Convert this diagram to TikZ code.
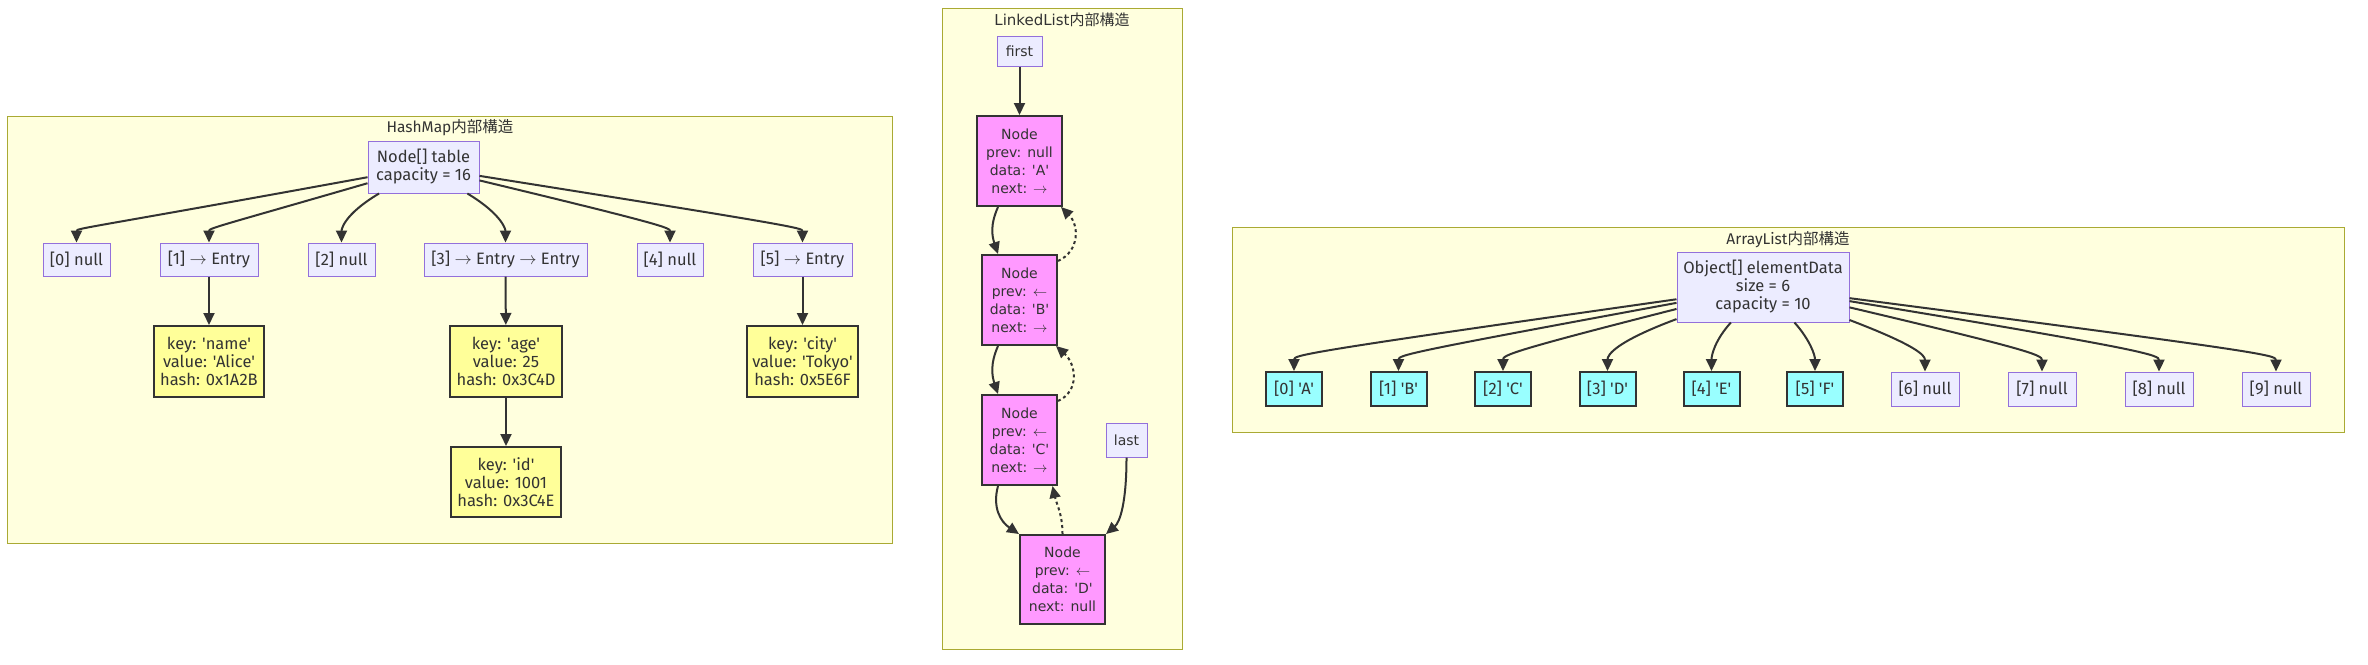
\documentclass[tikz,border=0pt]{standalone}
\usepackage{fontspec}
\setmainfont{Fira Sans}[Ligatures=TeXOff]
\newfontfamily\dvs{DejaVu Sans}[Ligatures=TeXOff]
\newfontfamily\cjk{Noto Sans CJK JP}
\usetikzlibrary{arrows.meta}

\definecolor{grpfill}{HTML}{FFFFDE}
\definecolor{grpline}{HTML}{AAAA33}
\definecolor{slotfill}{HTML}{ECECFF}
\definecolor{slotline}{HTML}{9370DB}
\definecolor{ink}{HTML}{333333}
\definecolor{entryfill}{HTML}{FFFF99}
\definecolor{cellfill}{HTML}{FF99FF}
\definecolor{elemfill}{HTML}{99FFFF}

\begin{document}
\begin{tikzpicture}[x=1pt, y=-1pt]
		\tikzstyle{grp}=[draw=grpline, fill=grpfill, line width=1pt]
		\tikzstyle{title}=[text=ink, inner sep=0pt, font=\fontsize{15.5}{18}\selectfont]
		\tikzstyle{slot}=[draw=slotline, fill=slotfill, line width=1pt, text=ink, align=center, inner sep=0pt, minimum height=33pt, font=\fontsize{16.5}{18}\selectfont]
		\tikzstyle{entry}=[slot, draw=ink, fill=entryfill, line width=2pt, minimum height=71pt]
		\tikzstyle{cell}=[entry, fill=cellfill, minimum height=90pt, font=\dvs\fontsize{14}{18}\selectfont]
		\tikzstyle{elem}=[entry, fill=elemfill, minimum width=56pt, minimum height=34pt]
		\tikzstyle{edge}=[draw=ink, line width=2pt, -{Triangle[length=12pt,width=11pt]}]
		\tikzstyle{back}=[edge, dash pattern=on 3pt off 3pt]

		\useasboundingbox (0,0) rectangle (2368,664);

    % Clusters
		\draw[grp] (7,116) rectangle (892,543);
		\draw[grp] (942,8) rectangle (1182,649);
		\draw[grp] (1232,227) rectangle (2344,432);

		\node[title](hmtitle) at (450,128){HashMap{\cjk 内部構造}};
		\node[title, font=\dvs\fontsize{15}{18}\selectfont](lltitle) at (1062,20){LinkedList{\cjk 内部構造}};
		\node[title](altitle) at (1788,240){ArrayList{\cjk 内部構造}};

    % HashMap
		\node[slot, minimum width=111pt, minimum height=52pt](tbl) at (423.5,167){Node[] table\\capacity = 16};
		\node[slot, minimum width=67pt](h0) at (76.5,259.5){[0] null};
		\node[slot, minimum width=98pt](h1) at (209,259.5){[1] $\rightarrow$ Entry};
		\node[slot, minimum width=67pt](h2) at (341.5,259.5){[2] null};
		\node[slot, minimum width=163pt](h3) at (505.5,259.5){[3] $\rightarrow$ Entry $\rightarrow$ Entry};
		\node[slot, minimum width=66pt](h4) at (670,259.5){[4] null};
		\node[slot, minimum width=99pt](h5) at (802.5,259.5){[5] $\rightarrow$ Entry};

		\node[entry, minimum width=110pt](e1) at (209,361.5){key: 'name'\\value: 'Alice'\\hash: 0x1A2B};
		\node[entry, minimum width=112pt](e3) at (506,361.5){key: 'age'\\value: 25\\hash: 0x3C4D};
		\node[entry, minimum width=111pt](e5) at (802.5,361.5){key: 'city'\\value: 'Tokyo'\\hash: 0x5E6F};
		\node[entry, minimum width=110pt, minimum height=70pt](e3b) at (506,482){key: 'id'\\value: 1001\\hash: 0x3C4E};

    % LinkedList
		\node[slot, minimum width=45pt, minimum height=30pt, font=\dvs\fontsize{14}{18}\selectfont](first) at (1019.5,51){first};
		\node[cell, minimum width=85pt](na) at (1019.5,161){Node\\prev: null\\data: 'A'\\next: $\rightarrow$};
		\node[cell, minimum width=75pt](nb) at (1019.5,300){Node\\prev: $\leftarrow$\\data: 'B'\\next: $\rightarrow$};
		\node[cell, minimum width=75pt](nc) at (1019.5,440){Node\\prev: $\leftarrow$\\data: 'C'\\next: $\rightarrow$};
		\node[slot, minimum width=41pt, minimum height=34pt, font=\dvs\fontsize{14}{18}\selectfont](last) at (1126.5,440){last};
		\node[cell, minimum width=85pt, minimum height=89pt](nd) at (1062.5,579.5){Node\\prev: $\leftarrow$\\data: 'D'\\next: null};

    % ArrayList
		\node[slot, minimum width=172pt, minimum height=70pt](arr) at (1763,287){Object[] elementData\\size = 6\\capacity = 10};
		\node[elem](a0) at (1294,389){[0] 'A'};
		\node[elem](a1) at (1398.5,389){[1] 'B'};
		\node[elem](a2) at (1503,389){[2] 'C'};
		\node[elem](a3) at (1607.5,389){[3] 'D'};
		\node[elem](a4) at (1711.5,389){[4] 'E'};
		\node[elem](a5) at (1815,389){[5] 'F'};
		\node[slot, minimum width=68pt, minimum height=34pt](a6) at (1925,389){[6] null};
		\node[slot, minimum width=68pt, minimum height=34pt](a7) at (2042,389){[7] null};
		\node[slot, minimum width=68pt, minimum height=34pt](a8) at (2159,389){[8] null};
		\node[slot, minimum width=68pt, minimum height=34pt](a9) at (2276,389){[9] null};

		\draw[edge] (tbl) .. controls (90,228) and (76.5,228) .. (h0);
		\draw[edge] (tbl) .. controls (220,226) and (209,228) .. (h1);
		\draw[edge] (tbl) .. controls (343,215) and (341.5,230) .. (h2);
		\draw[edge] (tbl) .. controls (503,215) and (505.5,230) .. (h3);
		\draw[edge] (tbl) .. controls (665,225) and (670,228) .. (h4);
		\draw[edge] (tbl) .. controls (795,226) and (802.5,228) .. (h5);

		\draw[edge] (h1) -- (e1);
		\draw[edge] (h3) -- (e3);
		\draw[edge] (e3) -- (e3b);
		\draw[edge] (h5) -- (e5);

		\draw[edge] (first) -- (na);
		\draw[edge] ([xshift=-21.5pt]na.south) .. controls +(-8,18) and +(-6,-18) .. ([xshift=-21.5pt]nb.north);
		\draw[back] ([yshift=-7pt]nb.north east) .. controls +(22,-10) and +(18,18) .. ([xshift=-2pt]na.south east);
		\draw[edge] ([xshift=-21.5pt]nb.south) .. controls +(-8,18) and +(-6,-18) .. ([xshift=-21.5pt]nc.north);
		\draw[back] ([yshift=-7pt]nc.north east) .. controls +(22,-10) and +(20,18) .. ([xshift=-2pt]nb.south east);
		\draw[edge] ([xshift=-21.5pt]nc.south) .. controls +(-6,22) and +(-18,-12) .. (nd.north west);
		\draw[back] (nd.north) .. controls +(0,-20) and +(4,18) .. ([xshift=33pt]nc.south);
		\draw[edge] (last.south) .. controls +(0,45) and +(14,-12) .. (nd.north east);

		\draw[edge] (arr) .. controls (1305,352) and (1294,355) .. (a0);
		\draw[edge] (arr) .. controls (1410,352) and (1398.5,355) .. (a1);
		\draw[edge] (arr) .. controls (1515,350) and (1503,355) .. (a2);
		\draw[edge] (arr) .. controls (1615,342) and (1607.5,355) .. (a3);
		\draw[edge] (arr) .. controls (1715,340) and (1711.5,355) .. (a4);
		\draw[edge] (arr) .. controls (1810,340) and (1815,355) .. (a5);
		\draw[edge] (arr) .. controls (1915,345) and (1925,355) .. (a6);
		\draw[edge] (arr) .. controls (2030,350) and (2042,355) .. (a7);
		\draw[edge] (arr) .. controls (2147,350) and (2159,355) .. (a8);
		\draw[edge] (arr) .. controls (2264,352) and (2276,355) .. (a9);
  \end{tikzpicture}
\end{document}
